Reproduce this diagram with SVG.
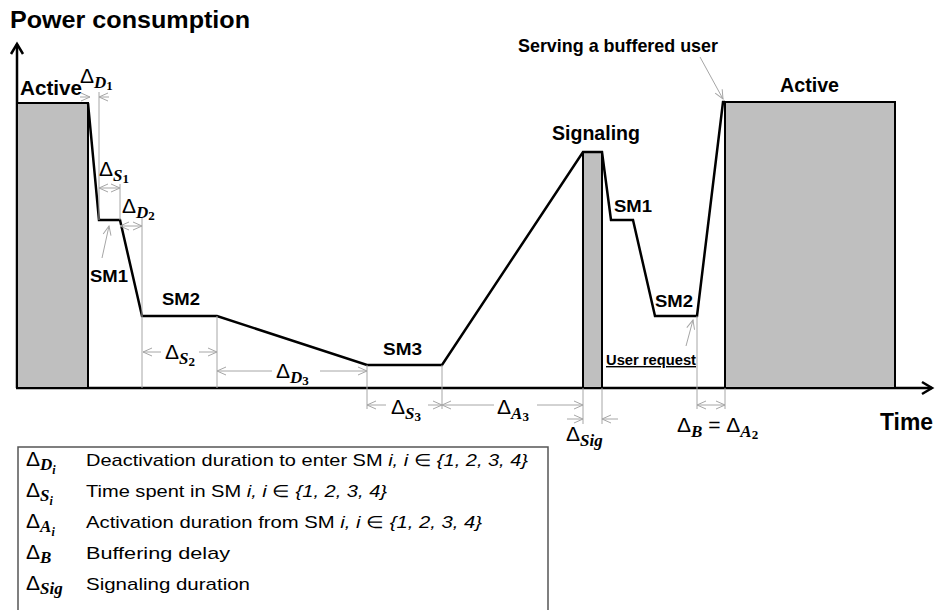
<svg xmlns="http://www.w3.org/2000/svg" width="939" height="610" viewBox="0 0 939 610">
  <style>
    .lbl { font-family: "Liberation Sans", Arial, sans-serif; font-weight: bold; fill: #000; }
    .dl { font-family: "Liberation Sans", Arial, sans-serif; font-size: 21px; fill: #000; }
    .sb { font-family: "Liberation Serif", "Times New Roman", serif; font-weight: bold; font-style: italic; font-size: 17px; }
    .sn { font-family: "Liberation Serif", "Times New Roman", serif; font-weight: bold; font-size: 13px; }
    .si { font-family: "Liberation Serif", "Times New Roman", serif; font-weight: bold; font-style: italic; font-size: 12px; }
    .leg { font-family: "Liberation Sans", Arial, sans-serif; font-size: 17px; fill: #000; }
    .it { font-style: italic; }
    .block { fill: #bfbfbf; stroke: #000; stroke-width: 2; }
    .curve { fill: none; stroke: #000; stroke-width: 2.5; stroke-linejoin: miter; }
    .axis { fill: none; stroke: #000; stroke-width: 2.5; }
    .ext { fill: none; stroke: #a6a6a6; stroke-width: 1; }
    .dimArrow { fill: none; stroke: #a6a6a6; stroke-width: 1; marker-end: url(#open); }
    .dimBoth { fill: none; stroke: #a6a6a6; stroke-width: 1; marker-end: url(#open); marker-start: url(#open); }
  </style>
  <defs>
    <marker id="open" markerUnits="userSpaceOnUse" markerWidth="12" markerHeight="10" refX="9" refY="4" orient="auto-start-reverse" overflow="visible">
      <path d="M0,0 L9,4 L0,8" fill="none" stroke="#a6a6a6" stroke-width="1"/>
    </marker>
    <marker id="axisHead" markerUnits="userSpaceOnUse" markerWidth="14" markerHeight="14" refX="10" refY="6" orient="auto" overflow="visible">
      <path d="M0,0 L10,6 L0,12" fill="none" stroke="#000" stroke-width="2.5"/>
    </marker>
  </defs>

  <!-- axes -->
  <g id="axes">
    <line class="axis" x1="17" y1="388" x2="17" y2="44" marker-end="url(#axisHead)"/>
    <line class="axis" x1="16" y1="388" x2="932" y2="388" marker-end="url(#axisHead)"/>
    <text class="lbl" x="10" y="28" font-size="24" textLength="240" lengthAdjust="spacingAndGlyphs">Power consumption</text>
    <text class="lbl" x="880" y="430" font-size="24" textLength="53" lengthAdjust="spacingAndGlyphs">Time</text>
  </g>

  <!-- state blocks -->
  <g id="active-left">
    <rect class="block" x="17" y="103" width="71" height="285"/>
    <text class="lbl" x="20" y="95" font-size="20" textLength="62" lengthAdjust="spacingAndGlyphs">Active</text>
  </g>
  <g id="signaling">
    <rect class="block" x="583" y="152" width="19" height="236"/>
    <text class="lbl" x="552" y="140" font-size="20" textLength="88" lengthAdjust="spacingAndGlyphs">Signaling</text>
  </g>
  <g id="active-right">
    <rect class="block" x="725" y="102" width="170" height="286"/>
    <text class="lbl" x="780" y="92" font-size="20" textLength="59" lengthAdjust="spacingAndGlyphs">Active</text>
  </g>

  <!-- power curve through the sleep modes -->
  <g id="power-curve">
    <path class="curve" d="M88,103 L99,220 L120,220 L142,316 L217,316 L367,365 L442,365 L583,152 L602,152 L611,220 L633,220 L655,316 L697,316 L723,102 L725,102"/>
  </g>

  <!-- sleep mode labels -->
  <g id="sm1-a">
    <text class="lbl" x="90" y="282" font-size="17" textLength="38" lengthAdjust="spacingAndGlyphs">SM1</text>
  </g>
  <g id="sm2-a">
    <text class="lbl" x="162" y="305" font-size="17" textLength="38" lengthAdjust="spacingAndGlyphs">SM2</text>
  </g>
  <g id="sm3">
    <text class="lbl" x="383" y="355" font-size="17" textLength="39" lengthAdjust="spacingAndGlyphs">SM3</text>
  </g>
  <g id="sm1-b">
    <text class="lbl" x="614" y="212" font-size="17" textLength="38" lengthAdjust="spacingAndGlyphs">SM1</text>
  </g>
  <g id="sm2-b">
    <text class="lbl" x="655" y="307" font-size="17" textLength="38" lengthAdjust="spacingAndGlyphs">SM2</text>
  </g>
  <g id="user-request">
    <text class="lbl" x="606" y="365" font-size="14" textLength="90" lengthAdjust="spacingAndGlyphs" text-decoration="underline">User request</text>
  </g>
  <g id="serving">
    <text class="lbl" x="518" y="52" font-size="19" textLength="200" lengthAdjust="spacingAndGlyphs">Serving a buffered user</text>
  </g>

  <!-- connectors: callouts, extension lines and duration arrows -->
  <g id="connectors">
    <!-- callouts -->
    <line class="dimArrow" x1="102" y1="258" x2="109" y2="226"/>
    <line class="dimArrow" x1="686" y1="346" x2="693" y2="320"/>
    <line class="dimArrow" x1="700" y1="57" x2="723" y2="99"/>

    <!-- extension lines -->
    <line class="ext" x1="99" y1="92" x2="99" y2="220"/>
    <line class="ext" x1="120" y1="184" x2="120" y2="220"/>
    <line class="ext" x1="142" y1="218" x2="142" y2="388"/>
    <line class="ext" x1="217" y1="316" x2="217" y2="388"/>
    <line class="ext" x1="367" y1="365" x2="367" y2="409"/>
    <line class="ext" x1="442" y1="365" x2="442" y2="409"/>
    <line class="ext" x1="583" y1="388" x2="583" y2="424"/>
    <line class="ext" x1="602" y1="388" x2="602" y2="424"/>
    <line class="ext" x1="697" y1="316" x2="697" y2="409"/>
    <line class="ext" x1="725" y1="388" x2="725" y2="409"/>

    <!-- D1 -->
    <line class="dimArrow" x1="80" y1="97" x2="90" y2="97"/>
    <line class="dimArrow" x1="109" y1="97" x2="99" y2="97"/>
    <!-- S1, D2 -->
    <line class="dimBoth" x1="99" y1="188" x2="120" y2="188"/>
    <line class="dimBoth" x1="120" y1="226" x2="142" y2="226"/>
    <!-- S2 -->
    <line class="dimArrow" x1="161" y1="352" x2="143" y2="352"/>
    <line class="dimArrow" x1="199" y1="352" x2="217" y2="352"/>
    <!-- D3 -->
    <line class="dimArrow" x1="272" y1="371" x2="217" y2="371"/>
    <line class="dimArrow" x1="320" y1="371" x2="367" y2="371"/>
    <!-- S3 -->
    <line class="dimArrow" x1="386" y1="405" x2="367" y2="405"/>
    <line class="dimArrow" x1="428" y1="405" x2="442" y2="405"/>
    <!-- A3 -->
    <line class="dimArrow" x1="494" y1="405" x2="442" y2="405"/>
    <line class="dimArrow" x1="537" y1="405" x2="583" y2="405"/>
    <!-- Sig -->
    <line class="dimArrow" x1="567" y1="419" x2="583" y2="419"/>
    <line class="dimArrow" x1="618" y1="419" x2="602" y2="419"/>
    <!-- B -->
    <line class="dimBoth" x1="697" y1="405" x2="725" y2="405"/>
  </g>

  <!-- duration labels -->
  <g id="duration-labels">
    <text class="dl" x="80" y="83">Δ<tspan class="sb" dy="5">D</tspan><tspan class="sn" dy="2">1</tspan></text>
    <text class="dl" x="99" y="176">Δ<tspan class="sb" dy="5">S</tspan><tspan class="sn" dy="2">1</tspan></text>
    <text class="dl" x="122" y="213">Δ<tspan class="sb" dy="5">D</tspan><tspan class="sn" dy="2">2</tspan></text>
    <text class="dl" x="165" y="359">Δ<tspan class="sb" dy="5">S</tspan><tspan class="sn" dy="2">2</tspan></text>
    <text class="dl" x="276" y="378">Δ<tspan class="sb" dy="5">D</tspan><tspan class="sn" dy="2">3</tspan></text>
    <text class="dl" x="391" y="414">Δ<tspan class="sb" dy="5">S</tspan><tspan class="sn" dy="2">3</tspan></text>
    <text class="dl" x="497" y="414">Δ<tspan class="sb" dy="5">A</tspan><tspan class="sn" dy="2">3</tspan></text>
    <text class="dl" x="566" y="441">Δ<tspan class="sb" dy="5">Sig</tspan></text>
    <text class="dl" x="677" y="432">Δ<tspan class="sb" dy="5">B</tspan><tspan dy="-5"> = Δ</tspan><tspan class="sb" dy="5">A</tspan><tspan class="sn" dy="2">2</tspan></text>
  </g>

  <!-- legend -->
  <g id="legend">
    <polyline points="18,612 18,447 548,447 548,612" fill="none" stroke="#555" stroke-width="1.5"/>
    <text class="dl" x="26" y="466">Δ<tspan class="sb" dy="4">D</tspan><tspan class="si" dy="4">i</tspan></text>
    <text class="dl" x="26" y="497">Δ<tspan class="sb" dy="4">S</tspan><tspan class="si" dy="4">i</tspan></text>
    <text class="dl" x="26" y="528">Δ<tspan class="sb" dy="4">A</tspan><tspan class="si" dy="4">i</tspan></text>
    <text class="dl" x="26" y="559">Δ<tspan class="sb" dy="4">B</tspan></text>
    <text class="dl" x="26" y="590">Δ<tspan class="sb" dy="4">Sig</tspan></text>
    <text class="leg" x="86" y="466" textLength="442" lengthAdjust="spacingAndGlyphs">Deactivation duration to enter SM <tspan class="it">i, i</tspan> ∈ <tspan class="it">{1, 2, 3, 4}</tspan></text>
    <text class="leg" x="86" y="497" textLength="301" lengthAdjust="spacingAndGlyphs">Time spent in SM <tspan class="it">i, i</tspan> ∈ <tspan class="it">{1, 2, 3, 4}</tspan></text>
    <text class="leg" x="86" y="528" textLength="396" lengthAdjust="spacingAndGlyphs">Activation duration from SM <tspan class="it">i, i</tspan> ∈ <tspan class="it">{1, 2, 3, 4}</tspan></text>
    <text class="leg" x="86" y="559" textLength="144" lengthAdjust="spacingAndGlyphs">Buffering delay</text>
    <text class="leg" x="86" y="590" textLength="164" lengthAdjust="spacingAndGlyphs">Signaling duration</text>
  </g>
</svg>
